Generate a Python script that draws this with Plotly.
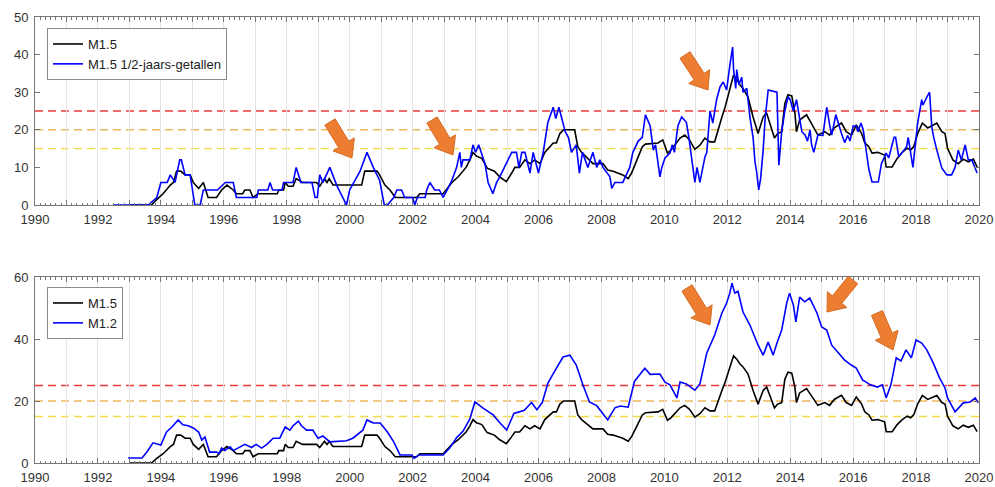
import plotly.graph_objects as go

# ---------------- data ----------------
# M1.5 (shared by both panels): decimal year, value
m15_t = [1993.0, 1993.7, 1993.85, 1994.07, 1994.3, 1994.4, 1994.5, 1994.63, 1994.77, 1994.93,
         1995.03, 1995.2, 1995.35, 1995.42, 1995.5, 1995.77, 1995.93, 1996.1, 1996.3, 1996.4,
         1996.6, 1996.67, 1996.83, 1996.93, 1997.09, 1997.7, 1997.75, 1997.9, 1997.95, 1998.05,
         1998.2, 1998.3, 1998.5, 1998.95, 1999.05, 1999.2, 1999.28, 1999.35, 1999.47, 1999.7,
         2000.38, 2000.48, 2000.87, 2000.95, 2001.12, 2001.28, 2001.45, 2002.13, 2002.23, 2002.97,
         2003.07, 2003.25, 2003.45, 2003.6, 2003.7, 2003.82, 2003.92, 2004.03, 2004.2, 2004.37,
         2004.6, 2004.77, 2004.98, 2005.15, 2005.25, 2005.4, 2005.57, 2005.73, 2005.88, 2006.05,
         2006.2, 2006.47, 2006.57, 2006.68, 2006.8, 2007.15, 2007.2, 2007.25, 2007.37, 2007.62,
         2007.73, 2008.05, 2008.2, 2008.37, 2008.68, 2008.85, 2008.96, 2009.13, 2009.3, 2009.4,
         2009.8, 2009.95, 2010.1, 2010.2, 2010.33, 2010.5, 2010.65, 2010.8, 2010.97, 2011.13,
         2011.29, 2011.45, 2011.6, 2011.7, 2011.83, 2011.93, 2012.02, 2012.14, 2012.2, 2012.3,
         2012.4, 2012.5, 2012.66, 2012.82, 2012.98, 2013.14, 2013.25, 2013.4, 2013.5, 2013.6,
         2013.73, 2013.83, 2013.93, 2014.05, 2014.15, 2014.2, 2014.3, 2014.52, 2014.73, 2014.88,
         2015.1, 2015.25, 2015.4, 2015.63, 2015.78, 2015.95, 2016.1, 2016.27, 2016.37, 2016.5,
         2016.6, 2016.78, 2017.0, 2017.05, 2017.24, 2017.4, 2017.56, 2017.72, 2017.83, 2017.93,
         2018.05, 2018.2, 2018.37, 2018.53, 2018.66, 2018.82, 2018.92, 2019.0, 2019.17, 2019.34,
         2019.5, 2019.66, 2019.82, 2019.94]
m15_v = [0, 0, 1.3, 3, 5.3, 6, 9, 9, 8, 8,
         6, 4.4, 6, 4, 2, 2, 4, 5.3, 4, 3,
         3, 4, 4, 2, 3, 3, 4, 4, 6, 5,
         5, 7, 6, 6, 5, 7, 6, 7, 5.3, 5.3,
         5.3, 9, 9, 8, 5.3, 4, 2, 2, 3, 3,
         4, 6, 7.5, 9, 10, 12, 14, 13, 12.4, 9.8,
         9, 7.5, 6.2, 8.5, 10, 10, 12, 11, 12, 11,
         14, 16.5, 16.5, 19, 20, 20, 18, 15.5, 14, 12,
         11, 11, 9.3, 9, 8, 7, 8.5, 12, 15.5, 16.2,
         16.5, 17.3, 13.8, 14.5, 15.8, 17.8, 18.6, 17.3, 14.8, 15.9,
         17.8, 16.8, 16.8, 20, 23.4, 26, 28.7, 33, 34.6, 33.5,
         32, 31, 28.7, 23.4, 19, 23.4, 24.5, 20.5, 17.8, 19,
         19.5, 27, 29.3, 29, 24.4, 19.5, 22.6, 24, 20.8, 18.6,
         19.5, 18.6, 20.5, 21.8, 19.5, 18.6, 21.3, 19, 16.5, 15.5,
         13.8, 14, 13.3, 10.1, 10.1, 12.4, 14, 15.1, 14.6, 15.6,
         19, 21.8, 20.5, 21.3, 21.8, 19.5, 19, 15.1, 12, 11,
         12.2, 11.5, 12.2, 10.1]

# M1.5 based on half-year counts
m15h_t = [1992.48, 1993.6, 1993.87, 1994.0, 1994.2, 1994.3, 1994.45, 1994.6, 1994.65, 1994.77,
          1994.93, 1995.08, 1995.25, 1995.35, 1995.8, 1996.05, 1996.3, 1996.4, 1997.05, 1997.1,
          1997.4, 1997.47, 1997.55, 1997.85, 1997.9, 1998.2, 1998.3, 1998.45, 1998.8, 1998.9,
          1998.97, 1999.05, 1999.15, 1999.25, 1999.37, 1999.6, 1999.9, 2000.0, 2000.33, 2000.55,
          2000.75, 2000.95, 2001.1, 2001.2, 2001.4, 2001.5, 2001.65, 2001.75, 2002.0, 2002.07,
          2002.15, 2002.4, 2002.45, 2002.55, 2002.7, 2002.85, 2002.97, 2003.1, 2003.25, 2003.4,
          2003.5, 2003.55, 2003.6, 2003.82, 2003.92, 2004.0, 2004.1, 2004.3, 2004.4, 2004.55,
          2004.67, 2004.77, 2004.87, 2005.15, 2005.3, 2005.38, 2005.47, 2005.57, 2005.73, 2005.83,
          2006.0, 2006.15, 2006.3, 2006.47, 2006.55, 2006.65, 2006.85, 2006.95, 2007.05, 2007.2,
          2007.3, 2007.4, 2007.57, 2007.73, 2007.85, 2007.95, 2008.05, 2008.27, 2008.33, 2008.43,
          2008.68, 2008.8, 2008.9, 2009.0, 2009.17, 2009.3, 2009.4, 2009.55, 2009.65, 2009.72,
          2009.86, 2009.92, 2010.02, 2010.18, 2010.25, 2010.32, 2010.43, 2010.55, 2010.7, 2010.78,
          2010.87, 2010.97, 2011.04, 2011.13, 2011.29, 2011.35, 2011.45, 2011.54, 2011.66, 2011.77,
          2011.87, 2011.98, 2012.08, 2012.17, 2012.2, 2012.27, 2012.3, 2012.37, 2012.46, 2012.5,
          2012.62, 2012.72, 2012.82, 2012.88, 2012.93, 2013.0, 2013.06, 2013.14, 2013.2, 2013.3,
          2013.58, 2013.64, 2013.73, 2013.83, 2013.93, 2014.0, 2014.1, 2014.2, 2014.3, 2014.37,
          2014.47, 2014.55, 2014.63, 2014.68, 2014.75, 2014.88, 2015.04, 2015.16, 2015.25, 2015.32,
          2015.45, 2015.55, 2015.63, 2015.73, 2015.83, 2015.9, 2016.0, 2016.1, 2016.15, 2016.25,
          2016.32, 2016.38, 2016.5, 2016.6, 2016.8, 2016.9, 2017.05, 2017.13, 2017.3, 2017.35,
          2017.45, 2017.7, 2017.75, 2017.9, 2018.0, 2018.05, 2018.18, 2018.22, 2018.35, 2018.43,
          2018.5, 2018.56, 2018.66, 2018.82, 2018.98, 2019.13, 2019.24, 2019.34, 2019.44, 2019.56,
          2019.66, 2019.77, 2019.94]
m15h_v = [0, 0, 2, 6, 6, 8, 6, 12, 12, 8,
          8, 0, 0, 4, 4, 6, 6, 2, 2, 4,
          4, 6, 4, 4, 6, 6, 10, 6, 6, 2,
          2, 8, 6, 8, 10, 5, 0, 4, 9, 14,
          10, 6.6, 0, 0, 2, 4, 4, 2, 2, 0,
          2, 2, 4, 6, 4, 4, 2, 4, 6.6, 10,
          14, 10, 12, 12, 16, 14, 16, 11, 6, 3,
          6, 7.5, 9.3, 14, 14, 10, 14, 14, 8.5, 14,
          8.5, 14, 22, 26, 23, 26, 19.5, 18, 14, 16,
          8.5, 14, 10, 14, 10, 12, 10, 7.5, 4.4, 6,
          6, 8, 10, 14, 17, 18, 24, 21, 14.6, 16,
          7.5, 10, 12.5, 13.8, 16, 14, 21, 23.4, 22, 18,
          12.8, 6, 10, 6, 12.8, 14, 25, 21.8, 28, 31.4,
          32.7, 30.6, 37, 42, 36, 31, 36, 32, 34, 30,
          31, 23.4, 18, 11.5, 9, 4, 7, 14.6, 22.6, 30.6,
          30, 10.6, 19.5, 25, 28.8, 28, 25, 28, 23, 19.5,
          18.6, 17, 20, 16, 14, 18.6, 18.5, 26, 21.5, 18.6,
          24, 21, 19, 16.6, 18.5, 17, 21, 21, 19.5, 21.8,
          20, 16.5, 9.5, 6.1, 6.1, 11, 13.8, 12.5, 18, 18,
          12.8, 15.5, 18, 10, 18, 21.8, 28, 26.6, 28.8, 30,
          20.8, 18, 14.6, 9.8, 8, 8, 10, 14.6, 12, 16,
          12, 12, 8.5]

# M1.2
m12_t = [1992.96, 1993.4, 1993.55, 1993.75, 1994.0, 1994.18, 1994.35, 1994.55, 1994.7, 1994.87,
         1995.03, 1995.2, 1995.3, 1995.4, 1995.55, 1995.77, 1995.85, 1995.93, 1996.03, 1996.2,
         1996.3, 1996.47, 1996.67, 1996.88, 1997.03, 1997.2, 1997.37, 1997.57, 1997.78, 1997.95,
         1998.1, 1998.2, 1998.37, 1998.47, 1998.63, 1998.83, 1998.99, 1999.15, 1999.37, 1999.9,
         2000.1, 2000.42, 2000.55, 2000.75, 2000.97, 2001.2, 2001.4, 2001.6, 2001.98, 2002.05,
         2002.2, 2002.97, 2003.18, 2003.4, 2003.6, 2003.82, 2003.98, 2004.24, 2004.56, 2004.78,
         2004.99, 2005.22, 2005.55, 2005.78, 2005.95, 2006.12, 2006.3, 2006.52, 2006.78, 2007.0,
         2007.2, 2007.42, 2007.62, 2007.85, 2008.05, 2008.2, 2008.43, 2008.6, 2008.85, 2009.05,
         2009.38, 2009.55, 2009.86, 2010.02, 2010.18, 2010.4, 2010.5, 2010.7, 2010.97, 2011.13,
         2011.35, 2011.5, 2011.6, 2011.83, 2011.98, 2012.08, 2012.15, 2012.24, 2012.34, 2012.5,
         2012.72, 2012.98, 2013.14, 2013.3, 2013.46, 2013.58, 2013.73, 2013.89, 2013.98, 2014.1,
         2014.18, 2014.3, 2014.46, 2014.62, 2014.85, 2015.0, 2015.16, 2015.32, 2015.5, 2015.73,
         2015.94, 2016.1, 2016.3, 2016.55, 2016.77, 2016.93, 2017.05, 2017.2, 2017.37, 2017.52,
         2017.68, 2017.85, 2018.0, 2018.18, 2018.34, 2018.53, 2018.75, 2018.92, 2019.0, 2019.24,
         2019.5, 2019.72, 2019.88, 2019.97]
m12_v = [1.6, 1.6, 3.5, 6.5, 5.8, 10, 11.6, 13.9, 12.3, 12,
         11.3, 10, 7.4, 8.4, 3.5, 3.5, 3, 4.8, 4, 5.2,
         4, 5, 6, 5, 6, 4.8, 6, 8, 8, 11.6,
         10.6, 12, 13.5, 12, 10.6, 10.6, 8, 8.7, 6.8, 7.2,
         8, 10.6, 13.9, 12.9, 12.9, 10, 6.8, 2.6, 2.6, 1.5,
         2.6, 2.6, 4.8, 8.2, 10.2, 14.2, 19.7, 17.7, 15.5, 12.9,
         10.6, 16, 17, 19.5, 17.2, 19.5, 25.8, 29.7, 34.2, 34.8,
         31.6, 25, 19.7, 18.5, 16, 13.9, 17.8, 18.4, 18, 26.3,
         30.6, 28.6, 28.7, 26.1, 25.2, 21, 26.1, 25.5, 23.5, 25.5,
         35.5, 38.7, 41.3, 48.4, 51.6, 54.8, 58, 54.8, 55.4, 48.7,
         44.5, 38, 34.8, 39, 34.8, 38.7, 42.9, 51.6, 54.8, 51,
         45.5, 53.5, 52, 53.2, 48.4, 43.9, 42.9, 38, 35.8, 33.2,
         31.6, 30.6, 26.8, 25.2, 24.5, 25.2, 21, 25.2, 33.9, 32.9,
         36.5, 33.9, 39.7, 38.7, 36.5, 32.6, 27.4, 24.2, 21, 16.5,
         19.4, 19.7, 21, 19.4]

# reference levels (value, colour)
level_values = [25, 20, 15]
level_colors = ["#ec3b3b", "#efb75e", "#f2da48"]

year_ticks = list(range(1990, 2021))
year_labels = [str(y) if y % 2 == 0 else "" for y in year_ticks]

# ---------------- figure ----------------
W, H = 995, 487
ML, MR, MT, MB = 35, 16, 17, 24
PW, PH = W - ML - MR, H - MT - MB

def py_to_paper(py):
    return (H - MB - py) / PH

top_dom = [py_to_paper(205), py_to_paper(17)]
bot_dom = [py_to_paper(463), py_to_paper(277)]

FONT = "Liberation Sans, Arial, sans-serif"
AX = "#767676"

fig = go.Figure()
fig.add_trace(go.Scatter(x=m15_t, y=m15_v, mode="lines", name="M1.5",
                         line=dict(color="black", width=1.6), xaxis="x", yaxis="y", legend="legend"))
fig.add_trace(go.Scatter(x=m15h_t, y=m15h_v, mode="lines", name="M1.5 1/2-jaars-getallen",
                         line=dict(color="#0000ff", width=1.6), xaxis="x", yaxis="y", legend="legend"))
fig.add_trace(go.Scatter(x=m15_t, y=m15_v, mode="lines", name="M1.5",
                         line=dict(color="black", width=1.6), xaxis="x2", yaxis="y2", legend="legend2"))
fig.add_trace(go.Scatter(x=m12_t, y=m12_v, mode="lines", name="M1.2",
                         line=dict(color="#0000ff", width=1.6), xaxis="x2", yaxis="y2", legend="legend2"))

shapes = []
for xr, yr in (("x", "y"), ("x2", "y2")):
    for val, col in zip(level_values, level_colors):
        shapes.append(dict(type="line", xref=xr, yref=yr, x0=1990, x1=2020, y0=val, y1=val,
                           line=dict(color=col, width=1.4, dash="8px,5px"), layer="below"))

# block arrows, given as tail -> tip in pixel space
arrows_px = [((330, 122), (352, 158)), ((432, 120), (453, 155)), ((685, 55), (708, 90)),
             ((687, 288), (710, 325)), ((853, 280), (827, 312)), ((877, 313), (893, 350))]

def arrow_path(tail, tip, shaft=6.0, head=12.5, head_len=16.0):
    tx, ty = tail
    hx, hy = tip
    dx, dy = hx - tx, hy - ty
    L = (dx * dx + dy * dy) ** 0.5
    ux, uy = dx / L, dy / L
    nx, ny = -uy, ux
    bx, by = hx - ux * head_len, hy - uy * head_len
    pts = [(tx + nx * shaft, ty + ny * shaft), (bx + nx * shaft, by + ny * shaft),
           (bx + nx * head, by + ny * head), (hx, hy),
           (bx - nx * head, by - ny * head), (bx - nx * shaft, by - ny * shaft),
           (tx - nx * shaft, ty - ny * shaft)]
    pp = [((px - ML) / PW, py_to_paper(py)) for px, py in pts]
    return "M " + " L ".join(f"{a:.5f},{b:.5f}" for a, b in pp) + " Z"

for tail, tip in arrows_px:
    shapes.append(dict(type="path", xref="paper", yref="paper", path=arrow_path(tail, tip),
                       fillcolor="#ed7d31", line=dict(color="#d56a22", width=1), layer="above"))

xaxis_common = dict(range=[1990, 2020], tickmode="array", tickvals=year_ticks, ticktext=year_labels,
                    ticks="inside", ticklen=5, tickcolor=AX, showline=True, linecolor=AX, linewidth=1,
                    mirror="ticks", showgrid=True, gridcolor="#e4e4e4", gridwidth=1, zeroline=False,
                    ticklabelstandoff=2, automargin=False,
                    tickfont=dict(family=FONT, size=13, color="#333333"),
                    minor=dict(dtick=1 / 6, tick0=1990, ticks="inside", ticklen=2.5, tickcolor=AX,
                               showgrid=False))
yaxis_common = dict(ticks="inside", ticklen=5, tickcolor=AX, showline=True, linecolor=AX, linewidth=1,
                    mirror="ticks", showgrid=False, zeroline=False, ticklabelstandoff=3, automargin=False,
                    tickfont=dict(family=FONT, size=13, color="#333333"))

legend_style = dict(bgcolor="white", bordercolor="#8a8a8a", borderwidth=1,
                    font=dict(family=FONT, size=13, color="#222222"),
                    xanchor="left", yanchor="top", tracegroupgap=0)

fig.update_layout(
    width=W, height=H,
    margin=dict(l=ML, r=MR, t=MT, b=MB, autoexpand=False),
    paper_bgcolor="white", plot_bgcolor="white",
    xaxis=dict(anchor="y", domain=[0, 1], **xaxis_common),
    yaxis=dict(anchor="x", domain=top_dom, range=[0, 50], tickvals=[0, 10, 20, 30, 40, 50], **yaxis_common),
    xaxis2=dict(anchor="y2", domain=[0, 1], **xaxis_common),
    yaxis2=dict(anchor="x2", domain=bot_dom, range=[0, 60], tickvals=[0, 20, 40, 60], **yaxis_common),
    legend=dict(x=(47 - ML) / PW, y=py_to_paper(28), **legend_style),
    legend2=dict(x=(47 - ML) / PW, y=py_to_paper(287), **legend_style),
    shapes=shapes,
    showlegend=True,
)

fig.write_html("out.html")
